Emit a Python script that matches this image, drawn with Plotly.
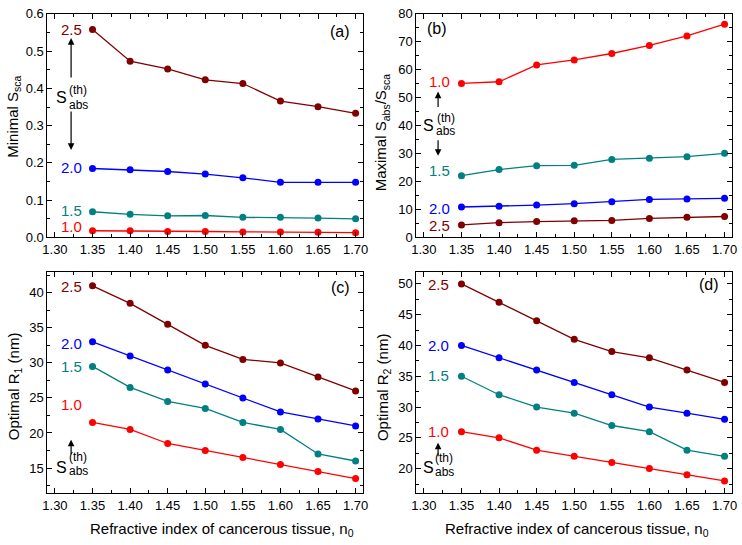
import plotly.graph_objects as go

# ---------------- data ----------------
n0 = [1.35, 1.40, 1.45, 1.50, 1.55, 1.60, 1.65, 1.70]
levels = ["1.0", "1.5", "2.0", "2.5"]
level_colors = ["#ff0000", "#008080", "#0000ff", "#800000"]

# (a) Minimal S_sca
a_10 = [0.018, 0.018, 0.016, 0.016, 0.015, 0.015, 0.014, 0.013]
a_15 = [0.069, 0.062, 0.058, 0.059, 0.054, 0.054, 0.052, 0.050]
a_20 = [0.185, 0.182, 0.177, 0.170, 0.160, 0.148, 0.148, 0.148]
a_25 = [0.558, 0.473, 0.452, 0.423, 0.413, 0.366, 0.351, 0.333]
# (b) Maximal S_abs/S_sca
b_10 = [55.1, 55.7, 61.7, 63.5, 65.8, 68.7, 72.1, 76.3]
b_15 = [22.1, 24.3, 25.7, 25.8, 27.9, 28.3, 28.9, 30.1]
b_20 = [10.9, 11.2, 11.6, 12.1, 12.8, 13.6, 13.8, 14.0]
b_25 = [4.5, 5.3, 5.7, 6.0, 6.1, 6.8, 7.2, 7.5]
# (c) Optimal R1 (nm)
c_10 = [21.5, 20.5, 18.5, 17.5, 16.5, 15.5, 14.5, 13.5]
c_15 = [29.5, 26.5, 24.5, 23.5, 21.5, 20.5, 17.0, 16.0]
c_20 = [33.0, 31.0, 29.0, 27.0, 25.0, 23.0, 22.0, 21.0]
c_25 = [41.0, 38.5, 35.5, 32.5, 30.5, 30.0, 28.0, 26.0]
# (d) Optimal R2 (nm)
d_10 = [26, 25, 23, 22, 21, 20, 19, 18]
d_15 = [35, 32, 30, 29, 27, 26, 23, 22]
d_20 = [40, 38, 36, 34, 32, 30, 29, 28]
d_25 = [50, 47, 44, 41, 39, 38, 36, 34]

panel_series = [
    [a_10, a_15, a_20, a_25],
    [b_10, b_15, b_20, b_25],
    [c_10, c_15, c_20, c_25],
    [d_10, d_15, d_20, d_25],
]
panel_letters = ["(a)", "(b)", "(c)", "(d)"]
y_titles = ["Minimal S<sub>sca</sub>",
            "Maximal S<sub>abs</sub>/S<sub>sca</sub>",
            "Optimal R<sub>1</sub> (nm)",
            "Optimal R<sub>2</sub> (nm)"]
x_title = "Refractive index of cancerous tissue, n<sub>0</sub>"
x_ticks = [1.30, 1.35, 1.40, 1.45, 1.50, 1.55, 1.60, 1.65, 1.70]
a_ticks = [0.0, 0.1, 0.2, 0.3, 0.4, 0.5, 0.6]
b_ticks = [0, 10, 20, 30, 40, 50, 60, 70, 80]
c_ticks = [15, 20, 25, 30, 35, 40]
d_ticks = [20, 25, 30, 35, 40, 45, 50]

# ---------------- layout geometry ----------------
W, H = 742, 545
FONT = "Liberation Sans, Arial, sans-serif"
panels = [(43, 7, 363, 237), (417, 7, 737, 237), (43, 273, 363, 500), (417, 273, 737, 500)]
y_ranges = [[0, 0.6], [0, 80], [11.4, 42.9], [16.0, 51.85]]
y_tickvals = [a_ticks, b_ticks, c_ticks, d_ticks]
y_texts = [[f"{v:.1f}" for v in a_ticks], [str(v) for v in b_ticks],
           [str(v) for v in c_ticks], [str(v) for v in d_ticks]]
y_minor = [0.05, 5, 2.5, 2.5]

fig = go.Figure()

for i, series in enumerate(panel_series):
    xa = "x" if i == 0 else f"x{i+1}"
    ya = "y" if i == 0 else f"y{i+1}"
    for lv, col, vals in zip(levels, level_colors, series):
        fig.add_trace(go.Scatter(x=n0, y=vals, mode="lines+markers", xaxis=xa, yaxis=ya,
                                 line=dict(color=col, width=1.3),
                                 marker=dict(color=col, size=7),
                                 showlegend=False, name=lv, cliponaxis=False))

def ax_common():
    return dict(showline=True, linecolor="black", linewidth=1, mirror="allticks",
                ticks="inside", ticklen=5, tickwidth=1, tickcolor="black",
                showgrid=False, zeroline=False, ticklabeloverflow="allow",
                tickfont=dict(family=FONT, size=13, color="black"))

layout = dict(width=W, height=H, margin=dict(l=0, r=0, t=0, b=0),
              paper_bgcolor="white", plot_bgcolor="white", showlegend=False)

for i, (l, t, r, b) in enumerate(panels):
    sfx = "" if i == 0 else str(i + 1)
    xa = ax_common()
    xa.update(domain=[l / W, r / W], range=[1.29, 1.71], tickvals=x_ticks,
              ticktext=[f"{v:.2f}" for v in x_ticks], anchor="y" + sfx,
              minor=dict(ticks="inside", ticklen=3, tickcolor="black", dtick=0.025, tick0=1.30))
    ya = ax_common()
    ya.update(domain=[1 - b / H, 1 - t / H], range=y_ranges[i], tickvals=y_tickvals[i],
              ticktext=y_texts[i], anchor="x" + sfx,
              minor=dict(ticks="inside", ticklen=3, tickcolor="black", dtick=y_minor[i], tick0=0))
    layout["xaxis" + sfx] = xa
    layout["yaxis" + sfx] = ya

fig.update_layout(**layout)

ann = []

def pos(i, px, py):
    l, t, r, b = panels[i]
    return (px - l) / (r - l), (b - py) / (b - t)

def refs(i):
    sfx = "" if i == 0 else str(i + 1)
    return "x" + sfx + " domain", "y" + sfx + " domain"

def text_at(i, px, py, txt, size, color="black", angle=0):
    xr, yr = refs(i)
    x, y = pos(i, px, py)
    ann.append(dict(x=x, y=y, xref=xr, yref=yr, text=txt, showarrow=False,
                    xanchor="center", yanchor="middle", textangle=angle,
                    font=dict(family=FONT, size=size, color=color)))

def arrow(i, hx, hy, tx, ty):
    xr, yr = refs(i)
    x, y = pos(i, hx, hy)
    ann.append(dict(x=x, y=y, xref=xr, yref=yr, text="", showarrow=True,
                    ax=tx - hx, ay=ty - hy, axref="pixel", ayref="pixel",
                    arrowhead=2, arrowsize=1.1, arrowwidth=1.2, arrowcolor="black",
                    standoff=0, startstandoff=0))

# level labels (pixel positions)
label_pos = [
    [(67, 226), (67, 209), (67, 165), (67, 23)],
    [(440, 77), (440, 168), (440, 207), (440, 225)],
    [(67, 409), (67, 370), (67, 346), (67, 287)],
    [(439, 437), (439, 379), (439, 348), (439, 285)],
]
for i in range(4):
    for lv, col, (px, py) in zip(levels, level_colors, label_pos[i]):
        text_at(i, px, py, lv, 15, col)

# S_abs^(th) stacks
def s_stack(i, sx, sy, tx, ty, bx, by):
    text_at(i, sx, sy, "S", 16)
    text_at(i, tx, ty, "(th)", 12)
    text_at(i, bx, by, "abs", 12)

s_stack(0, 57, 93, 74, 85, 74, 101)
arrow(0, 67, 32, 67, 73)
arrow(0, 67, 147, 67, 107)
s_stack(1, 429, 122, 447, 114, 447, 128)
arrow(1, 439, 87, 439, 104)
arrow(1, 439, 153, 439, 136)
s_stack(2, 57, 474, 74, 463, 74, 477)
arrow(2, 67, 445, 67, 461)
s_stack(3, 429, 474, 445, 464, 445, 478)
arrow(3, 439, 448, 439, 463)

# panel letters
letter_pos = [(340, 25), (438, 22), (340, 288), (714, 285)]
for i, (px, py) in enumerate(letter_pos):
    text_at(i, px, py, panel_letters[i], 16)

# axis titles
ytitle_pos = [(9, 113), (382, 129), (9, 390), (383, 391)]
for i, (px, py) in enumerate(ytitle_pos):
    text_at(i, px, py, y_titles[i], 15, angle=-90)
xtitle_pos = {2: (220, 537), 3: (580, 537)}
for i, (px, py) in xtitle_pos.items():
    text_at(i, px, py, x_title, 15)

fig.update_layout(annotations=ann)
fig.write_html("out.html", config={"displayModeBar": False},
               post_script="document.body.style.margin='0';document.body.style.overflow='hidden';")
